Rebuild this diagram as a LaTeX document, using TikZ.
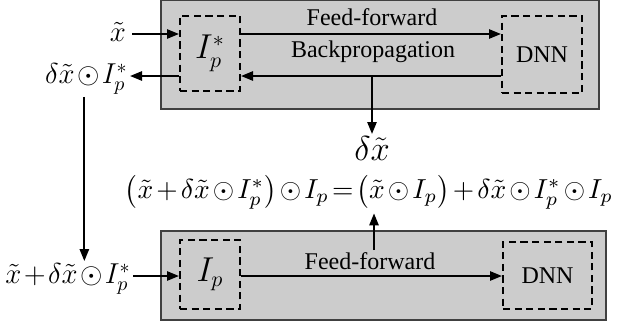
\documentclass[tikz,border=0pt]{standalone}
\usepackage{fontspec}
\setmainfont{Liberation Serif}
\usepackage{graphicx}
\usetikzlibrary{arrows.meta}
\newcommand{\tightmu}{\medmuskip=1.5mu\thickmuskip=1.5mu}
\begin{document}
\begin{tikzpicture}[x=0.5pt,y=-0.5pt,
  graybox/.style={draw=black!75, fill=black!20, line width=0.6pt, inner sep=0pt},
  dbox/.style={draw, line width=1pt, dash pattern=on 3.6pt off 2.2pt, inner sep=0pt},
  arr/.style={line width=1pt, -{Triangle[length=6pt,width=4.6pt]}},
  txt/.style={font=\fontsize{12}{14}\selectfont, inner sep=1pt},
  bigm/.style={font=\fontsize{16}{18}\selectfont, inner sep=0pt},
  lblm/.style={font=\fontsize{14}{16}\selectfont, inner sep=1pt}]
\useasboundingbox (0,0) rectangle (635,327);
% background boxes
\node[graybox, minimum width=219pt, minimum height=54.5pt] (topbox) at (380,54.5) {};
\node[graybox, minimum width=222.5pt, minimum height=44.5pt] (botbox) at (383.5,275.5) {};
% dashed boxes
\node[dbox, minimum width=30pt, minimum height=37.5pt] (ipt) at (210,53.5) {};
\node[bigm] at (ipt.center) {$I_p^*$};
\node[dbox, minimum width=40pt, minimum height=38.5pt, txt] (dnnt) at (542,54.5) {DNN};
\node[dbox, minimum width=30pt, minimum height=34.5pt] (ipb) at (210,274.5) {};
\node[bigm] at (ipb.center) {$I_p$};
\node[dbox, minimum width=44.5pt, minimum height=33.5pt, txt] (dnnb) at (547.5,275.5) {DNN};
% helper rows
\coordinate (ffy) at (0,34);
\coordinate (bpy) at (0,76);
\coordinate (ffb) at (0,276);
% top arrows
\draw[arr] (ipt.east |- ffy) -- (dnnt.west |- ffy);
\draw[arr] (dnnt.west |- bpy) -- (ipt.east |- bpy);
\node[txt] (fft) at (372,17) {Feed-forward};
\node[txt] (bpt) at (373,52) {Backpropagation};
% input labels
\node[lblm, font=\fontsize{15}{17}\selectfont, inner sep=3pt] (xt) at (118,32) {$\tilde{x}$};
\draw[arr] (xt.east |- ffy) -- (ipt.west |- ffy);
\node[lblm, anchor=east] (dl) at (130,79) {$\tightmu\delta\tilde{x}\odot I_p^*$};
\draw[arr] (ipt.west |- bpy) -- (dl.east |- bpy);
\node[lblm, anchor=east] (bl) at (133,279) {$\tightmu\tilde{x}+\delta\tilde{x}\odot I_p^*$};
\draw[arr] ([xshift=-1pt]dl.south) -- ([xshift=-1pt]dl.south |- bl.north);
\draw[arr] (bl.east |- ffb) -- (ipb.west |- ffb);
% delta x
\node[lblm, font=\fontsize{17}{19}\selectfont, anchor=north] (dx) at (372,134) {$\delta\tilde{x}$};
\draw[arr] (dx.north |- bpy) -- (dx.north);
% equation
\node[inner sep=2pt] (eq) at (369,192) {\resizebox{244pt}{!}{$\medmuskip=2mu\thickmuskip=2mu\bigl(\tilde{x}+\delta\tilde{x}\odot I_p^*\bigr)\odot I_p=\bigl(\tilde{x}\odot I_p\bigr)+\delta\tilde{x}\odot I_p^*\odot I_p$}};
% bottom arrows
\draw[arr] (ipb.east |- ffb) -- (dnnb.west |- ffb);
\node[txt] (ffl) at (370,261) {Feed-forward};
\draw[arr] ([xshift=2pt]ffl.north) -- ([xshift=2pt]ffl.north |- eq.south);
\end{tikzpicture}
\end{document}
